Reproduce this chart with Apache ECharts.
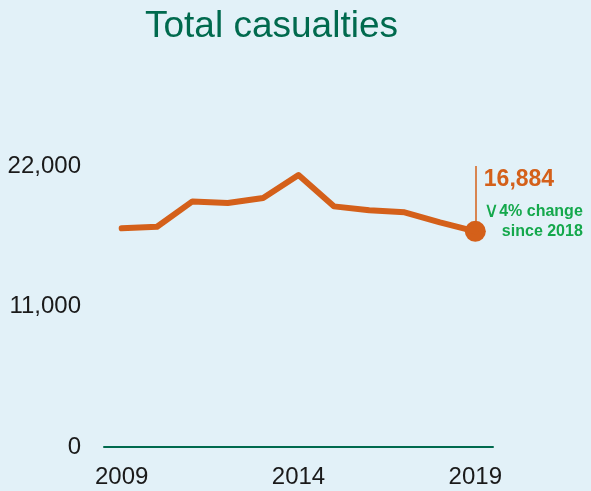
<!DOCTYPE html>
<html><head><meta charset="utf-8">
<script src="https://cdn.jsdelivr.net/npm/echarts@6/dist/echarts.min.js"></script>
<style>html,body{margin:0;padding:0;background:#e2f1f8}#c{width:591px;height:491px}</style>
</head><body><div id="c"></div>
<script>
const years = ['2009','2010','2011','2012','2013','2014','2015','2016','2017','2018','2019'];
const casualties = [17120, 17240, 19230, 19100, 19490, 21290, 18840, 18530, 18370, 17590, 16884];
const yTicks = [0, 11000, 22000];
const xTickLabels = ['2009','2014','2019'];
const lastLabel = '16,884';
const changeLabel = '4% change';
const sinceLabel = 'since 2018';

const last = casualties.length - 1;
const font = '"Liberation Sans", Arial, sans-serif';
const chart = echarts.init(document.getElementById('c'));
chart.setOption({
  backgroundColor: '#e2f1f8',
  animation: false,
  title: {
    text: 'Total casualties', left: 140, top: 3,
    textStyle: {color: '#006a4e', fontSize: 37, fontWeight: 'normal', fontFamily: font}
  },
  grid: {left: 104, right: 98, top: 166, bottom: 44},
  xAxis: {
    type: 'category', data: years, boundaryGap: true,
    axisLine: {lineStyle: {color: '#006a4e', width: 2}},
    axisTick: {show: false},
    axisLabel: {
      color: '#1a1a1a', fontSize: 24, fontFamily: font, margin: 18,
      interval: 0,
      formatter: v => xTickLabels.includes(v) ? v : ''
    }
  },
  yAxis: {
    type: 'value', min: 0, max: 22000, interval: 11000,
    axisLine: {show: false}, axisTick: {show: false}, splitLine: {show: false},
    axisLabel: {
      color: '#1a1a1a', fontSize: 24, fontFamily: font, margin: 23,
      formatter: v => yTicks.includes(v) ? v.toLocaleString('en-US') : ''
    }
  },
  series: [{
    type: 'line', data: casualties, symbol: 'none', clip: false,
    lineStyle: {color: '#d4601a', width: 6, cap: 'round', join: 'round'},
    markLine: {
      silent: true, symbol: 'none', label: {show: false},
      lineStyle: {color: '#d4601a', width: 1.5, type: 'solid'},
      data: [[{coord: ['2019', casualties[last]]}, {coord: ['2019', 22000]}]]
    }
  }, {
    type: 'scatter',
    data: casualties.map((v, i) => i === last ? v : '-'),
    symbol: 'circle', symbolSize: 21,
    itemStyle: {color: '#d4601a', opacity: 1},
    label: {
      show: true, position: [19, -63], align: 'left', verticalAlign: 'top',
      fontFamily: font,
      formatter: () => '{a|' + lastLabel + '}\n{b|∨}{c|' + changeLabel + '}\n{d|' + sinceLabel + '}',
      rich: {
        a: {color: '#d4601a', fontSize: 23, fontWeight: 'bold', fontFamily: font, lineHeight: 44},
        b: {color: '#14a84c', fontSize: 21, fontFamily: '"DejaVu Sans", sans-serif', lineHeight: 20},
        c: {color: '#14a84c', fontSize: 16, fontWeight: 'bold', fontFamily: font, lineHeight: 20},
        d: {color: '#14a84c', fontSize: 16, fontWeight: 'bold', fontFamily: font, lineHeight: 20, width: 99, align: 'right'}
      }
    }
  }]
});
</script></body></html>
